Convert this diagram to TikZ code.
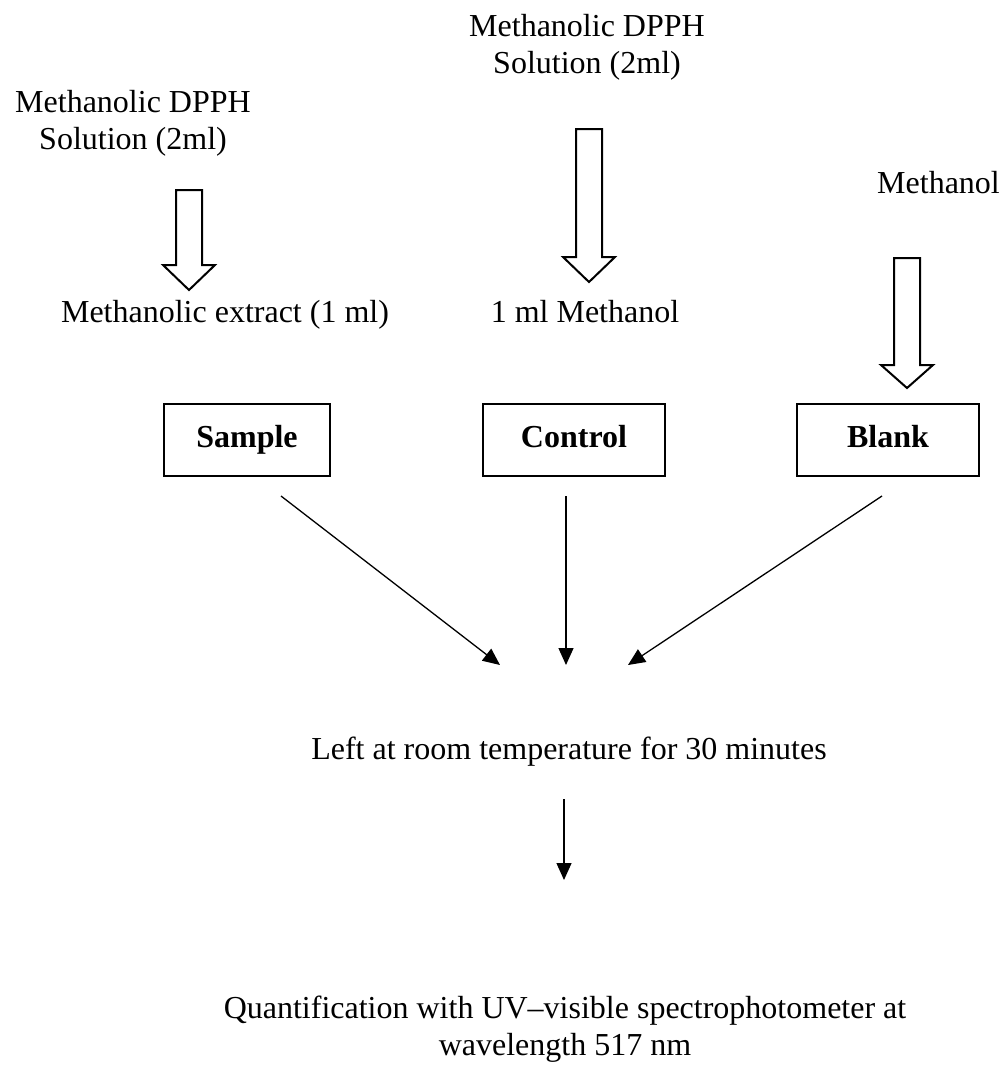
\documentclass[tikz,border=0pt]{standalone}
\usepackage{fontspec}
\setmainfont{Liberation Serif}
\usetikzlibrary{arrows.meta}
\newcommand\myblockarrow[4]{% cx, top, headbase, tip
  \draw[blockarrow] (#1-13,#2) -- (#1+13,#2) -- (#1+13,#3) -- (#1+26,#3) -- (#1,#4) -- (#1-26,#3) -- (#1-13,#3) -- cycle;}
\begin{document}
\begin{tikzpicture}[x=1pt,y=-1pt,
  txt/.style={inner sep=0pt,font=\fontsize{32}{37}\selectfont,align=center},
  boxnode/.style={draw,line width=2pt,minimum height=72pt,inner sep=0pt,text height=22pt,text depth=7pt,font=\fontsize{32}{37}\selectfont\bfseries},
  blockarrow/.style={draw,line width=2pt,fill=white,line join=miter},
  conn/.style={line width=1.3pt,-{Triangle[length=17pt,width=15pt]}}]
\useasboundingbox (0,0) rectangle (1002,1072);
% texts
\node[txt,anchor=base] (dpphL1) at (133,112) {Methanolic DPPH};
\node[txt,anchor=base] (dpphL2) at (133,149) {Solution (2ml)};
\node[txt,anchor=base] (dpphM1) at (587,36) {Methanolic DPPH};
\node[txt,anchor=base] (dpphM2) at (587,73) {Solution (2ml)};
\node[txt,anchor=base west] (meth) at (877,193) {Methanol};
\node[txt,anchor=base] (extract) at (225,322) {Methanolic extract (1 ml)};
\node[txt,anchor=base] (mlmeth) at (585,322) {1 ml Methanol};
% block arrows
\myblockarrow{189}{190}{265}{290}
\myblockarrow{589}{129}{257}{282}
\myblockarrow{907}{258}{365}{388}
% boxes
\node[boxnode,minimum width=166pt] (sample) at (247,440) {Sample};
\node[boxnode,minimum width=182pt] (control) at (574,440) {Control};
\node[boxnode,minimum width=182pt] (blank) at (888,440) {Blank};
% mixing
\coordinate (mixL) at (500,665);
\coordinate (mixC) at (566,665);
\coordinate (mixR) at (628,665);
\coordinate (sS) at (281,496);
\coordinate (sC) at (566,496);
\coordinate (sB) at (882,496);
\draw[conn] (sS) -- (mixL);
\draw[conn] (sC) -- (mixC);
\draw[conn] (sB) -- (mixR);
\node[txt,anchor=base] (left) at (569,759) {Left at room temperature for 30 minutes};
\coordinate (dS) at (564,799);
\coordinate (dE) at (564,880);
\draw[conn] (dS) -- (dE);
\node[txt,anchor=base] (quant1) at (565,1018) {Quantification with UV–visible spectrophotometer at};
\node[txt,anchor=base] (quant2) at (565,1055) {wavelength 517 nm};
\end{tikzpicture}
\end{document}
